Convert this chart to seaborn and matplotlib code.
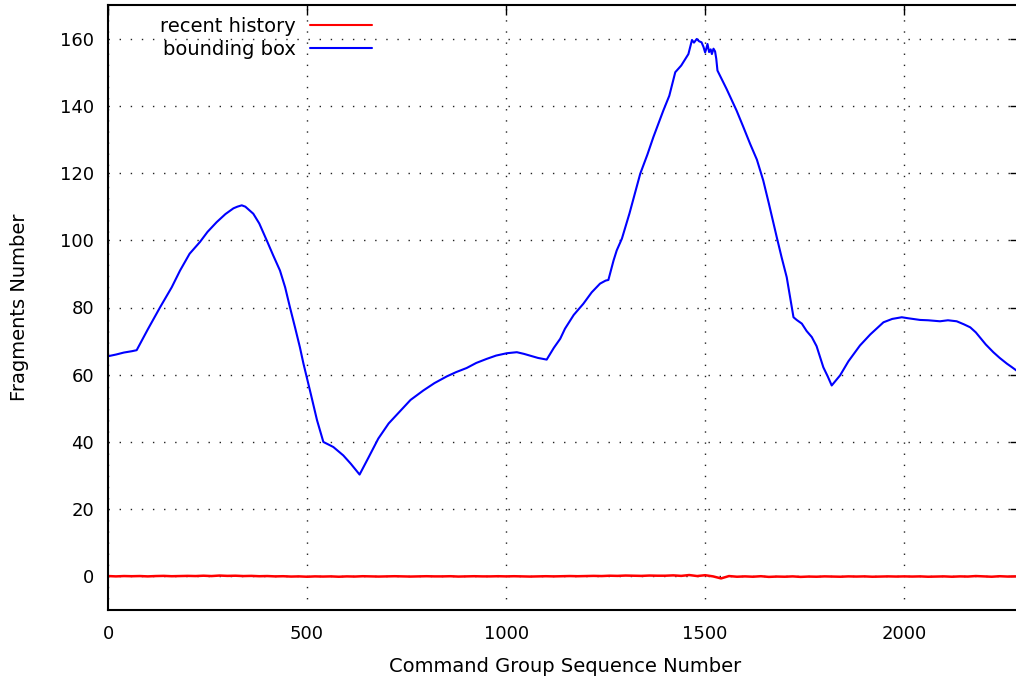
import numpy as np
import pandas as pd
import matplotlib
matplotlib.use("Agg")
import matplotlib.pyplot as plt
import seaborn as sns

# ---- data ----
bbox_seq = [0, 20, 40, 60, 72, 100, 131, 160, 181, 205, 231, 250, 273, 295, 315, 325, 336,
            345, 365, 380, 399, 415, 432, 445, 457, 470, 482, 491, 510, 525, 541, 566, 591,
            610, 632, 655, 679, 705, 734, 760, 792, 820, 851, 875, 901, 925, 951, 975, 1002,
            1027, 1045, 1060, 1080, 1102, 1120, 1136, 1148, 1170, 1194, 1215, 1236, 1250,
            1257, 1270, 1278, 1291, 1310, 1337, 1355, 1370, 1395, 1410, 1425, 1440, 1458,
            1467, 1472, 1479, 1485, 1491, 1496, 1500, 1503, 1506, 1510, 1514, 1517, 1521,
            1525, 1528, 1531, 1554, 1579, 1595, 1613, 1630, 1646, 1660, 1680, 1692, 1705,
            1715, 1722, 1730, 1743, 1755, 1768, 1780, 1797, 1808, 1818, 1830, 1839, 1860,
            1889, 1915, 1948, 1970, 1994, 2010, 2040, 2060, 2090, 2110, 2132, 2150, 2166,
            2180, 2191, 2205, 2224, 2240, 2258, 2270, 2285]
bbox_vals = [65.5, 66.0, 66.6, 67.0, 67.3, 73.5, 80.1, 86.0, 91.0, 96.0, 99.5, 102.5, 105.4,
             107.8, 109.5, 110.0, 110.4, 110.0, 107.9, 105.0, 99.9, 95.5, 91.0, 86.0, 80.1,
             74.0, 68.2, 63.3, 54.0, 46.5, 40.0, 38.5, 36.0, 33.5, 30.3, 35.5, 41.0, 45.5,
             49.2, 52.5, 55.3, 57.5, 59.5, 60.8, 62.0, 63.5, 64.7, 65.7, 66.4, 66.7, 66.2,
             65.7, 65.0, 64.5, 68.0, 70.7, 73.7, 77.8, 81.1, 84.5, 87.1, 88.0, 88.2, 94.0,
             97.0, 100.5, 108.0, 119.8, 125.5, 130.7, 138.6, 143.0, 150.0, 152.0, 155.4,
             159.6, 158.8, 159.9, 159.2, 158.9, 157.5, 155.9, 157.0, 158.4, 156.0, 156.8,
             155.4, 157.0, 156.2, 154.0, 150.5, 145.0, 138.6, 134.0, 128.7, 124.0, 117.8,
             111.0, 100.9, 95.0, 89.0, 82.0, 77.1, 76.3, 75.2, 73.0, 71.2, 68.5, 62.2, 59.5,
             56.8, 58.5, 59.8, 64.0, 68.7, 72.0, 75.6, 76.6, 77.1, 76.8, 76.3, 76.2, 75.9,
             76.2, 75.9, 75.0, 74.1, 72.6, 71.0, 69.0, 66.7, 65.0, 63.3, 62.3, 61.0]

recent_seq = list(range(0, 2300, 20))
recent_vals = [0.1, 0.0, 0.1, 0.05, 0.1, 0.0, 0.1, 0.15, 0.05, 0.1,
               0.15, 0.1, 0.2, 0.1, 0.25, 0.15, 0.2, 0.1, 0.15, 0.05,
               0.1, 0.0, 0.05, -0.05, 0.0, -0.1, 0.0, -0.05, 0.0, -0.1,
               0.0, -0.05, 0.05, 0.0, -0.05, 0.0, 0.05, 0.0, -0.05, 0.0,
               0.05, 0.0, 0.0, 0.05, -0.05, 0.0, 0.05, 0.0, 0.0, 0.05,
               0.0, 0.05, 0.0, -0.05, 0.0, 0.05, 0.0, 0.05, 0.1, 0.05,
               0.1, 0.15, 0.1, 0.2, 0.15, 0.25, 0.2, 0.15, 0.25, 0.2,
               0.2, 0.3, 0.15, 0.4, 0.1, 0.35, 0.0, -0.6, 0.1, -0.1,
               0.0, -0.1, 0.05, -0.15, -0.05, -0.1, 0.0, -0.15, -0.05, -0.1,
               0.0, -0.05, -0.1, 0.0, -0.05, 0.0, -0.1, -0.05, 0.0, -0.05,
               0.0, -0.05, 0.0, -0.1, -0.05, 0.0, -0.1, 0.0, -0.05, 0.1,
               0.0, -0.1, 0.05, -0.05, 0.0]

series_names = ["recent history", "bounding box"]
series_colors = ["#ff0000", "#0000ff"]
x_ticks = [0, 500, 1000, 1500, 2000]
y_ticks = [0, 20, 40, 60, 80, 100, 120, 140, 160]
x_label = "Command Group Sequence Number"
y_label = "Fragments Number"

df = pd.concat([
    pd.DataFrame({"seq": recent_seq, "frag": recent_vals, "series": series_names[0]}),
    pd.DataFrame({"seq": bbox_seq, "frag": bbox_vals, "series": series_names[1]}),
], ignore_index=True)

sns.set_theme(style="white")
plt.rcParams["font.family"] = ["DejaVu Sans"]

fig = plt.figure(figsize=(10.16, 6.82), dpi=100)
ax = fig.add_axes([108 / 1016, 72 / 682, 912 / 1016, 605 / 682])

sns.lineplot(data=df, x="seq", y="frag", hue="series", hue_order=series_names,
             palette=series_colors, estimator=None, sort=False, ax=ax,
             linewidth=1.5, legend=True)
ax.get_lines()[0].set_linewidth(1.8)

ax.set_xlim(0, 2291)
ax.set_ylim(-10, 170)
ax.set_xticks(x_ticks)
ax.set_yticks(y_ticks)

ax.grid(True, color="#222222", linestyle=(0, (1.0, 7.0)), linewidth=1.0)
ax.set_axisbelow(True)

for s in ax.spines.values():
    s.set_visible(True)
    s.set_color("black")
    s.set_linewidth(1.5)

ax.tick_params(axis="both", which="major", direction="in", length=7, width=1.0,
               color="black", labelsize=13, labelcolor="black",
               top=True, right=True)
ax.tick_params(axis="x", pad=10.5)
ax.tick_params(axis="y", pad=10)

ax.set_xlabel(x_label, fontsize=14, color="black")
ax.set_ylabel(y_label, fontsize=14, color="black")
ax.xaxis.set_label_coords(0.5016, -0.0926)
ax.xaxis.label.set_va("center")
ax.yaxis.set_label_coords(-0.0965, 0.5008)
ax.yaxis.label.set_va("center")

handles, labels = ax.get_legend_handles_labels()
leg = ax.legend(handles, labels, loc="upper right", markerfirst=False,
                frameon=False, fontsize=14, handlelength=3.2, handletextpad=0.7,
                labelspacing=0.2, borderpad=0, borderaxespad=0,
                bbox_to_anchor=(372 / 1016, 1 - 17 / 682),
                bbox_transform=fig.transFigure)
for t in leg.get_texts():
    t.set_color("black")

fig.savefig("out.png", dpi=100)
